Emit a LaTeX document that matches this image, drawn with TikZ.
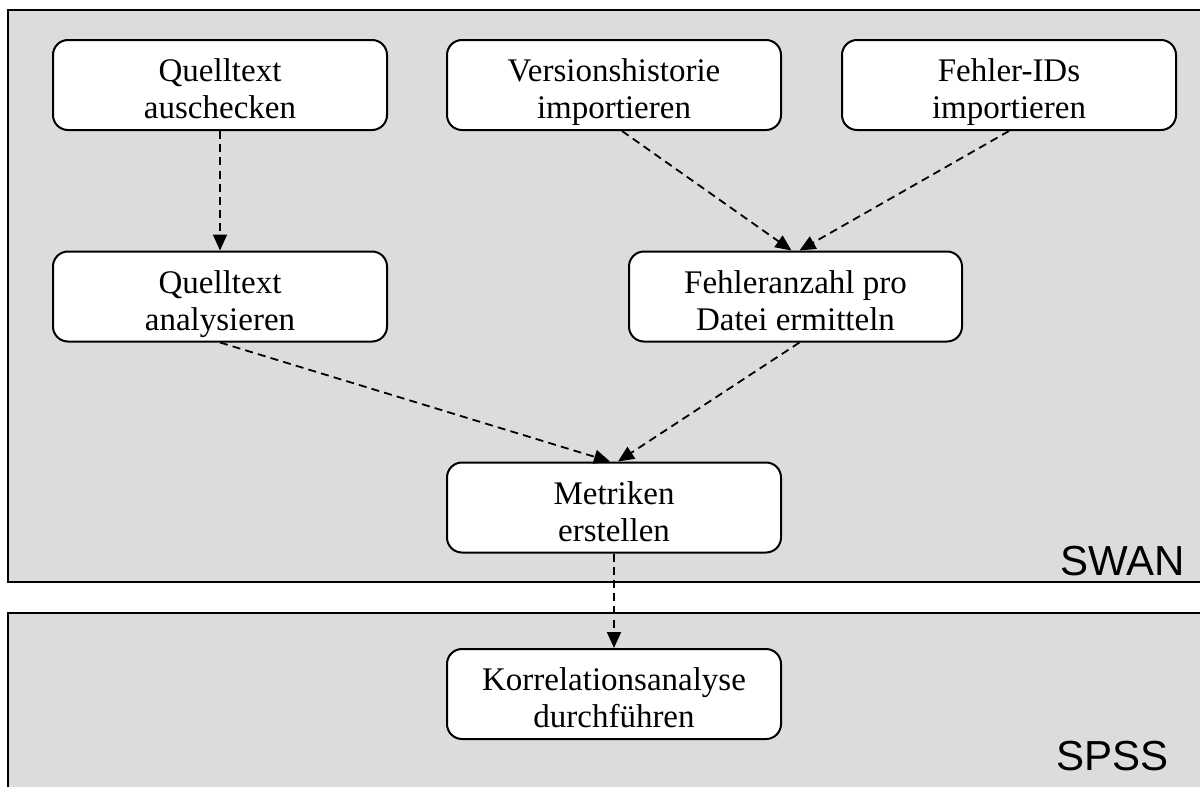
\documentclass[tikz,border=0pt]{standalone}
\usepackage{fontspec}
\setmainfont{Liberation Serif}
\newfontfamily\labelfont{Liberation Sans}
\usetikzlibrary{arrows.meta}
\definecolor{bggray}{RGB}{220,220,220}
\tikzset{
  stepbox/.style={draw, line width=1pt, rounded corners=7.5pt, fill=white,
    minimum width=167pt, minimum height=45pt, align=center, inner sep=0pt,
    font=\fontsize{16.5}{18.5}\selectfont,
    text height=38pt, text depth=4.5pt},
  region/.style={draw, line width=1pt, fill=bggray},
  flow/.style={dashed, dash pattern=on 4pt off 2.6pt, line width=0.9pt,
    -{Triangle[width=7pt,length=8pt]}},
  regionlabel/.style={font=\labelfont\fontsize{21}{24}\selectfont, anchor=base east, inner sep=0pt}
}
\begin{document}
\begin{tikzpicture}[x=0.5pt,y=-0.5pt]
\useasboundingbox (0,0) rectangle (1200,787);
\fill[white] (0,0) rectangle (1200,787);
\draw[region] (8,10) rectangle (1212,582);
\draw[region] (8,613) rectangle (1212,800);
\node[regionlabel] (swan) at (1185,575) {SWAN};
\node[regionlabel] (spss) at (1169,770) {SPSS};

\node[stepbox] (a) at (220,85) {Quelltext\\auschecken};
\node[stepbox] (v) at (614,85) {Versionshistorie\\importieren};
\node[stepbox] (f) at (1009,85) {Fehler-IDs\\importieren};
\node[stepbox] (q) at (220,296.5) {Quelltext\\analysieren};
\node[stepbox, minimum width=166.5pt] (e) at (795.5,296.5) {Fehleranzahl pro\\Datei ermitteln};
\node[stepbox] (m) at (614,507.5) {Metriken\\erstellen};
\node[stepbox] (k) at (614,694) {Korrelationsanalyse\\durchführen};

\draw[flow] (a.south) -- (q.north);
\draw[flow] ([xshift=4pt]v.south) -- ([xshift=-2pt]e.north);
\draw[flow] (f.south) -- ([xshift=2pt]e.north);
\draw[flow] (q.south) -- ([xshift=-2pt]m.north);
\draw[flow] ([xshift=2pt]e.south) -- ([xshift=2pt]m.north);
\draw[flow] (m.south) -- (k.north);
\end{tikzpicture}
\end{document}
